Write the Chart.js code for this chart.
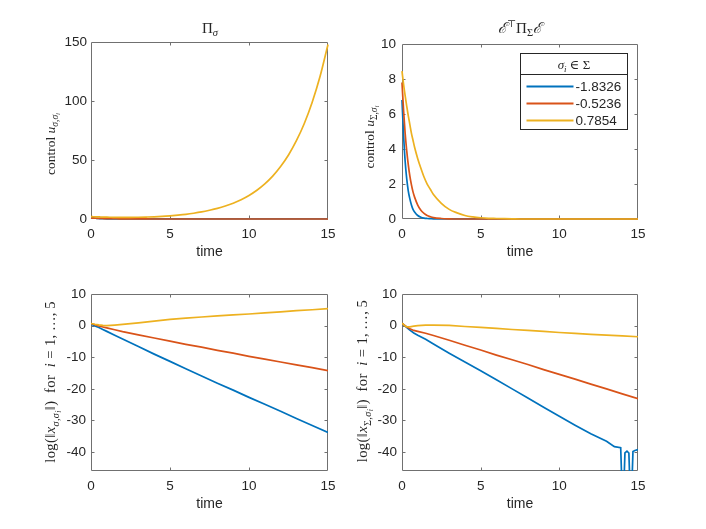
<!DOCTYPE html>
<html>
<head>
<meta charset="utf-8">
<script src="https://cdn.jsdelivr.net/npm/chart.js@4.4.0/dist/chart.umd.min.js"></script>
<style>
html,body{margin:0;padding:0;background:#fff;}
#wrap{position:relative;width:706px;height:529px;overflow:hidden;background:#fff;}
canvas{position:absolute;}
.math{position:absolute;font-family:"Liberation Serif","DejaVu Serif",serif;color:#262626;white-space:nowrap;line-height:1;z-index:5;}
.rot{transform:translate(-50%,-50%) rotate(-90deg);}
.ctr{transform:translate(-50%,-50%);}
.math sub{font-size:70%;vertical-align:-0.35em;line-height:0;}
.math sub sub{font-size:75%;vertical-align:-0.25em;}
.math sup{font-size:65%;vertical-align:0.55em;line-height:0;}
.wide{letter-spacing:0.4px;}
</style>
</head>
<body>
<div id="wrap">
<canvas id="c1" width="292" height="231" style="left:51px;top:30px"></canvas>
<canvas id="c2" width="291" height="231" style="left:362px;top:30px"></canvas>
<canvas id="c3" width="292" height="232" style="left:51px;top:281px"></canvas>
<canvas id="c4" width="291" height="232" style="left:362px;top:281px"></canvas>

<div class="math ctr" style="left:210px;top:28px;font-size:15px">Π<sub><i>σ</i></sub></div>
<div class="math ctr" style="left:520px;top:28px;font-size:15px"><i>ℰ</i><sup>⊤</sup>Π<sub>Σ</sub><i>ℰ</i></div>

<div class="math rot" style="left:51px;top:144px;font-size:13.5px">control <i>u</i><sub><i>σ</i>,<i>σ</i><sub><i>i</i></sub></sub></div>
<div class="math rot" style="left:370px;top:137px;font-size:13.5px">control <i>u</i><sub>Σ,<i>σ</i><sub><i>i</i></sub></sub></div>
<div class="math rot wide" style="left:51px;top:382px;font-size:14.5px">log(‖<i>x</i><sub><i>σ</i>,<i>σ</i><sub><i>i</i></sub></sub>‖)&ensp;for&ensp;<i>i</i>&nbsp;=&nbsp;1,&thinsp;…,&thinsp;5</div>
<div class="math rot wide" style="left:363px;top:381px;font-size:14.5px">log(‖<i>x</i><sub>Σ,<i>σ</i><sub><i>i</i></sub></sub>‖)&ensp;for&ensp;<i>i</i>&nbsp;=&nbsp;1,&thinsp;…,&thinsp;5</div>
</div>

<script>
// ---------- data ----------
const seriesLabels = ['-1.8326', '-0.5236', '0.7854'];
const xTicks = [0, 5, 10, 15];
const yTicksPi = [0, 50, 100, 150];
const yTicksSig = [0, 2, 4, 6, 8, 10];
const yTicksLog = [-40, -30, -20, -10, 0, 10];

const timeTop = [0,0.1,0.2,0.3,0.4,0.5,0.6,0.7,0.8,1,1.2,1.4,1.6,1.8,2,2.5,3,3.5,4,4.5,5,5.5,6,6.5,7,7.5,8,8.5,9,9.5,10,10.5,11,11.5,12,12.5,13,13.5,14,14.5,15];

const ctrlPiBlue = [1.2,1.0,0.8,0.65,0.5,0.4,0.32,0.25,0.2,0.12,0.08,0.05,0.03,0.02,0.01,
  0,0,0,0,0,0,0,0,0,0,0,0,0,0,0,0,0,0,0,0,0,0,0,0,0,0];
const ctrlPiRed = [0.9,0.8,0.72,0.65,0.6,0.55,0.5,0.45,0.4,0.35,0.3,0.25,0.2,0.17,0.14,
  0.09,0.05,0.03,0.02,0.01,0,0,0,0,0,0,0,0,0,0,0,0,0,0,0,0,0,0,0,0,0];
const ctrlPiYellow = [2.0,1.95,1.9,1.85,1.8,1.75,1.7,1.65,1.6,1.55,1.5,1.45,1.42,1.4,1.38,
  1.4,1.5,1.65,1.85,2.2,2.7,3.3,4.0,4.9,6.0,7.4,9.0,11.0,13.4,16.4,20.0,24.4,29.8,36.4,44.5,54.3,66.4,81,99,121,148];

const ctrlSigBlue = [6.8,4.8,3.3,2.3,1.6,1.15,0.8,0.55,0.4,0.2,0.1,0.05,0.03,0.02,0.01,
  0,0,0,0,0,0,0,0,0,0,0,0,0,0,0,0,0,0,0,0,0,0,0,0,0,0];
const ctrlSigRed = [7.8,6.2,4.9,3.9,3.1,2.45,1.95,1.55,1.25,0.8,0.5,0.32,0.2,0.13,0.08,
  0.03,0.01,0,0,0,0,0,0,0,0,0,0,0,0,0,0,0,0,0,0,0,0,0,0,0,0];
const ctrlSigYellow = [8.45,7.7,7.05,6.45,5.9,5.4,4.9,4.5,4.1,3.45,2.9,2.4,2.0,1.7,1.4,
  0.9,0.55,0.35,0.2,0.12,0.07,0.04,0.03,0.02,0.01,0,0,0,0,0,0,0,0,0,0,0,0,0,0,0,0];

const timeBottom = [0,0.25,0.5,0.75,1,1.5,2,3,4,5,6,7,8,9,10,11,12,13,14,15];
const logPiBlue = [0.5,-0.1,-0.6,-1.2,-1.8,-3.0,-4.2,-6.6,-9.0,-11.3,-13.6,-15.9,-18.2,-20.4,-22.7,-24.9,-27.1,-29.4,-31.6,-33.8];
const logPiRed = [0.7,0.3,-0.1,-0.4,-0.7,-1.3,-1.9,-2.9,-3.9,-4.9,-5.9,-6.8,-7.8,-8.7,-9.7,-10.6,-11.5,-12.4,-13.3,-14.2];
const logPiYellow = [0.7,0.45,0.25,0.12,0.05,0.2,0.4,0.9,1.45,2.0,2.4,2.75,3.1,3.4,3.7,4.05,4.4,4.75,5.05,5.4];

const logSigYellow = [0.8,-0.3,-0.4,-0.15,0,0.15,0.2,0.1,-0.25,-0.55,-0.85,-1.2,-1.5,-1.8,-2.15,-2.45,-2.75,-3.0,-3.25,-3.5];
const logSigRed = [0.8,-0.2,-1.0,-1.5,-1.8,-2.4,-3.1,-4.6,-6.2,-7.7,-9.3,-10.8,-12.3,-13.9,-15.4,-16.9,-18.5,-20.0,-21.6,-23.1];
const timeSigBlue = [0,0.25,0.5,0.75,1,1.5,2,3,4,5,6,7,8,9,10,11,12,13,13.5,13.9,14.04,14.17,14.3,14.42,14.55,14.68,14.8,15];
const logSigBlue = [0.8,-0.4,-1.4,-2.3,-3.0,-4.3,-5.8,-8.7,-11.5,-14.3,-17.1,-20.0,-22.9,-25.8,-28.7,-31.5,-34.2,-36.6,-38.3,-38.6,-60,-40.3,-39.7,-40.3,-60,-39.8,-39.5,-39.2];

// ---------- styling ----------
const COLORS = ['#0072BD', '#D95319', '#EDB120'];
const TEXT = '#262626';
const AXIS = '#707070';
const TICKLEN = 3;

const zip = (xs, ys) => xs.map((x, i) => ({x: x, y: ys[i]}));

const boxPlugin = {
  id: 'matlabBox',
  beforeDatasetsDraw(chart) {
    const {ctx, chartArea: a, scales} = chart;
    const L = Math.round(a.left) + 0.5, R = Math.round(a.right) - 0.5;
    const T = Math.round(a.top) + 0.5, B = Math.round(a.bottom) - 0.5;
    ctx.save();
    ctx.strokeStyle = AXIS;
    ctx.lineWidth = 1;
    ctx.beginPath();
    ctx.rect(L, T, R - L, B - T);
    scales.x.ticks.forEach(t => {
      const px = Math.round(scales.x.getPixelForValue(t.value)) + 0.5;
      if (px <= L + 1 || px >= R - 1) return;
      ctx.moveTo(px, B); ctx.lineTo(px, B - TICKLEN);
      ctx.moveTo(px, T); ctx.lineTo(px, T + TICKLEN);
    });
    scales.y.ticks.forEach(t => {
      const py = Math.round(scales.y.getPixelForValue(t.value)) + 0.5;
      if (py <= T + 1 || py >= B - 1) return;
      ctx.moveTo(L, py); ctx.lineTo(L + TICKLEN, py);
      ctx.moveTo(R, py); ctx.lineTo(R - TICKLEN, py);
    });
    ctx.stroke();
    ctx.restore();
  }
};

const legendPlugin = {
  id: 'boxLegend',
  afterDraw(chart) {
    const {ctx, chartArea: a} = chart;
    const w = 107, h = 76;
    const x0 = Math.round(a.right - 11 - w) + 0.5;
    const y0 = Math.round(a.top + 9) + 0.5;
    ctx.save();
    ctx.fillStyle = '#fff';
    ctx.fillRect(x0, y0, w, h);
    ctx.strokeStyle = TEXT;
    ctx.lineWidth = 1;
    ctx.strokeRect(x0, y0, w, h);
    ctx.beginPath();
    ctx.moveTo(x0, y0 + 21); ctx.lineTo(x0 + w, y0 + 21);
    ctx.stroke();
    const fMain = 'italic 13px "Liberation Serif", "DejaVu Serif", serif';
    const fSub = 'italic 9px "Liberation Serif", "DejaVu Serif", serif';
    const fUp = '13px "Liberation Serif", "DejaVu Serif", serif';
    ctx.fillStyle = TEXT;
    ctx.textBaseline = 'alphabetic';
    ctx.font = fMain; const w1 = ctx.measureText('σ').width;
    ctx.font = fSub; const w2 = ctx.measureText('i').width;
    ctx.font = fUp; const w3 = ctx.measureText(' ∈ Σ').width;
    let tx = x0 + w / 2 - (w1 + w2 + w3) / 2;
    const by = y0 + 15;
    ctx.font = fMain; ctx.fillText('σ', tx, by); tx += w1;
    ctx.font = fSub; ctx.fillText('i', tx, by + 3); tx += w2;
    ctx.font = fUp; ctx.fillText(' ∈ Σ', tx, by);
    ctx.textBaseline = 'middle';
    ctx.font = '13.5px "Liberation Sans", Arial, sans-serif';
    chart.data.datasets.forEach((ds, i) => {
      const yy = Math.round(y0 + 32 + i * 17) + 0.5;
      ctx.strokeStyle = ds.borderColor;
      ctx.lineWidth = 2;
      ctx.beginPath();
      ctx.moveTo(x0 + 6, yy); ctx.lineTo(x0 + 53, yy);
      ctx.stroke();
      ctx.fillStyle = TEXT;
      ctx.fillText(ds.label, x0 + 55, yy + 0.5);
    });
    ctx.restore();
  }
};

function makeChart(id, series, yMin, yMax, yTicks, yPad, smooth, withLegend, clip) {
  const datasets = series.map((s, i) => ({
    label: seriesLabels[i],
    data: s,
    borderColor: COLORS[i],
    backgroundColor: COLORS[i],
    borderWidth: 1.7,
    pointRadius: 0,
    fill: false,
    order: 3 - i,
    clip: clip,
    cubicInterpolationMode: smooth ? 'monotone' : 'default',
    tension: 0
  }));
  const plugins = [boxPlugin];
  if (withLegend) plugins.push(legendPlugin);
  return new Chart(document.getElementById(id), {
    type: 'line',
    data: {datasets: datasets},
    plugins: plugins,
    options: {
      responsive: false,
      animation: false,
      devicePixelRatio: 1,
      layout: {padding: {top: 10, right: 15, left: 0, bottom: 0}},
      plugins: {legend: {display: false}, tooltip: {enabled: false}, title: {display: false}},
      scales: {
        x: {
          type: 'linear', min: 0, max: 15,
          grid: {display: false, drawTicks: false, tickLength: 0},
          border: {display: false},
          ticks: {color: TEXT, font: {family: 'Liberation Sans', size: 13.5}, padding: 7, maxRotation: 0, autoSkip: false},
          afterBuildTicks: s => { s.ticks = xTicks.map(v => ({value: v})); },
          afterFit: s => { s.height = 42; },
          title: {display: true, text: 'time', color: TEXT, font: {family: 'Liberation Sans', size: 14}, padding: {top: 0, bottom: 0}}
        },
        y: {
          type: 'linear', min: yMin, max: yMax,
          grid: {display: false, drawTicks: false, tickLength: 0},
          border: {display: false},
          ticks: {color: TEXT, font: {family: 'Liberation Sans', size: 13.5}, padding: yPad, autoSkip: false},
          afterBuildTicks: s => { s.ticks = yTicks.map(v => ({value: v})); },
          afterFit: s => { s.width = 40; }
        }
      }
    }
  });
}

makeChart('c1', [zip(timeTop, ctrlPiBlue), zip(timeTop, ctrlPiRed), zip(timeTop, ctrlPiYellow)], 0, 150, yTicksPi, 4, true, false, 3);
makeChart('c2', [zip(timeTop, ctrlSigBlue), zip(timeTop, ctrlSigRed), zip(timeTop, ctrlSigYellow)], 0, 10, yTicksSig, 6, true, true, 3);
makeChart('c3', [zip(timeBottom, logPiBlue), zip(timeBottom, logPiRed), zip(timeBottom, logPiYellow)], -46, 10, yTicksLog, 5, false, false, 0);
makeChart('c4', [zip(timeSigBlue, logSigBlue), zip(timeBottom, logSigRed), zip(timeBottom, logSigYellow)], -46, 10, yTicksLog, 5, false, false, 0);
</script>
</body>
</html>
